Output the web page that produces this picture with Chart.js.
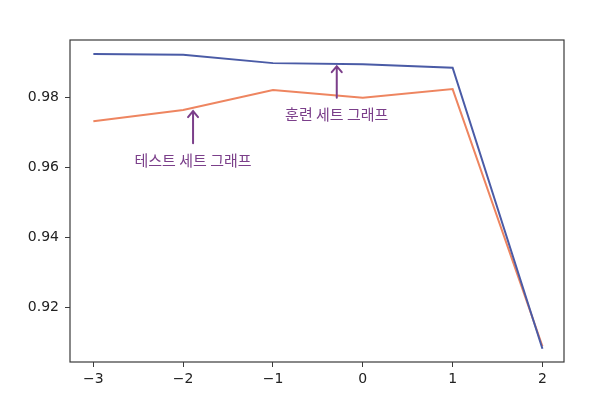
<!DOCTYPE html>
<html>
<head>
<meta charset="utf-8">
<script src="https://cdn.jsdelivr.net/npm/chart.js@4"></script>
<style>
  html, body { margin: 0; padding: 0; background: #fff; }
  #wrap { width: 616px; height: 399px; }
</style>
</head>
<body>
<div id="wrap"><canvas id="lineChart" width="616" height="399"></canvas></div>
<script>
// log10(C) values on the x axis
var xValues = [-3, -2, -1, 0, 1, 2];
var trainScores = [0.9924, 0.9922, 0.9898, 0.9895, 0.9885, 0.9083];
var testScores = [0.9732, 0.9764, 0.9821, 0.9799, 0.9824, 0.9090];
var yTicks = [0.92, 0.94, 0.96, 0.98];
var xTicks = [-3, -2, -1, 0, 1, 2];

// annotation labels: text, arrow x, arrow tip y, arrow tail y, text y
var notes = [
    { text: '훈련 세트 그래프', x: -0.29, tip: 0.9892, tail: 0.9799, textY: 0.9751 },
    { text: '테스트 세트 그래프', x: -1.89, tip: 0.9764, tail: 0.9669, textY: 0.9621 }
];

var axisColor = '#3a3a3a';

var framePlugin = {
    id: 'frame',
    afterDatasetsDraw: function (chart) {
        var ctx = chart.ctx;
        var a = chart.chartArea;
        ctx.save();
        ctx.strokeStyle = axisColor;
        ctx.lineWidth = 1.2;
        ctx.strokeRect(a.left, a.top, a.right - a.left, a.bottom - a.top);

        // arrows and labels
        var xs = chart.scales.x, ys = chart.scales.y;
        ctx.strokeStyle = '#7b3f8a';
        ctx.fillStyle = '#7b3f8a';
        ctx.lineWidth = 2;
        ctx.lineCap = 'round';
        notes.forEach(function (n) {
            var px = xs.getPixelForValue(n.x);
            var tipY = ys.getPixelForValue(n.tip);
            var tailY = ys.getPixelForValue(n.tail);
            ctx.beginPath();
            ctx.moveTo(px, tailY);
            ctx.lineTo(px, tipY + 1);
            ctx.moveTo(px - 5, tipY + 7);
            ctx.lineTo(px, tipY + 1);
            ctx.lineTo(px + 5, tipY + 7);
            ctx.stroke();
            ctx.font = '15px "Noto Sans CJK KR"';
            ctx.textAlign = 'center';
            ctx.textBaseline = 'middle';
            ctx.fillText(n.text, px, ys.getPixelForValue(n.textY));
        });
        ctx.restore();
    }
};

var lineCtx = document.getElementById('lineChart').getContext('2d');

new Chart(lineCtx, {
    type: 'line',
    data: {
        datasets: [{
            label: 'train',
            data: xValues.map(function (x, i) { return { x: x, y: trainScores[i] }; }),
            borderColor: '#4a5ba6',
            borderWidth: 2,
            pointRadius: 0,
            fill: false
        }, {
            label: 'test',
            data: xValues.map(function (x, i) { return { x: x, y: testScores[i] }; }),
            borderColor: '#ee8560',
            borderWidth: 2,
            pointRadius: 0,
            fill: false
        }]
    },
    options: {
        responsive: false,
        animation: false,
        layout: { padding: { left: 0, right: 52, top: 40, bottom: 0 } },
        plugins: { legend: { display: false }, tooltip: { enabled: false } },
        scales: {
            x: {
                type: 'linear',
                min: -3.26,
                max: 2.24,
                afterBuildTicks: function (s) { s.ticks = xTicks.map(function (v) { return { value: v }; }); },
                afterFit: function (s) { s.height = 37; },
                grid: { drawOnChartArea: false, drawTicks: true, tickLength: 5, color: axisColor },
                border: { display: false },
                ticks: {
                    color: '#222',
                    padding: 4,
                    font: { family: 'DejaVu Sans', size: 14 },
                    callback: function (v) { return v < 0 ? '\u2212' + Math.abs(v) : String(v); }
                }
            },
            y: {
                min: 0.9045,
                max: 0.9964,
                afterBuildTicks: function (s) { s.ticks = yTicks.map(function (v) { return { value: v }; }); },
                afterFit: function (s) { s.width = 70; },
                grid: { drawOnChartArea: false, drawTicks: true, tickLength: 5, color: axisColor },
                border: { display: false },
                ticks: {
                    color: '#222',
                    padding: 6,
                    font: { family: 'DejaVu Sans', size: 14 },
                    callback: function (v) { return v.toFixed(2); }
                }
            }
        }
    },
    plugins: [framePlugin]
});
</script>
</body>
</html>
